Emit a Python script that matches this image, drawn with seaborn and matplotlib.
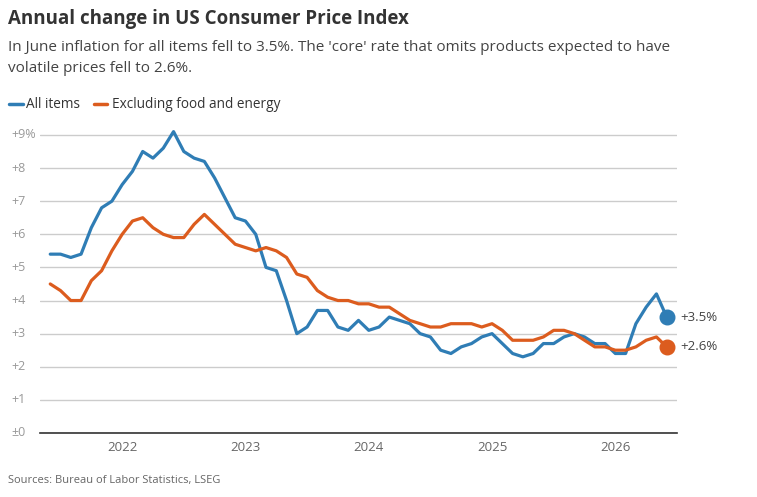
import numpy as np
import pandas as pd
import matplotlib
matplotlib.use('Agg')
import matplotlib.pyplot as plt
import seaborn as sns

# Monthly values, June 2021 .. June 2026
all_items = [5.4, 5.4, 5.3, 5.4, 6.2, 6.8, 7.0, 7.5, 7.9, 8.5,
             8.3, 8.6, 9.1, 8.5, 8.3, 8.2, 7.7, 7.1, 6.5, 6.4,
             6.0, 5.0, 4.9, 4.0, 3.0, 3.2, 3.7, 3.7, 3.2, 3.1,
             3.4, 3.1, 3.2, 3.5, 3.4, 3.3, 3.0, 2.9, 2.5, 2.4,
             2.6, 2.7, 2.9, 3.0, 2.7, 2.4, 2.3, 2.4, 2.7, 2.7,
             2.9, 3.0, 2.9, 2.7, 2.7, 2.4, 2.4, 3.3, 3.8, 4.2, 3.5]
core = [4.5, 4.3, 4.0, 4.0, 4.6, 4.9, 5.5, 6.0, 6.4, 6.5,
        6.2, 6.0, 5.9, 5.9, 6.3, 6.6, 6.3, 6.0, 5.7, 5.6,
        5.5, 5.6, 5.5, 5.3, 4.8, 4.7, 4.3, 4.1, 4.0, 4.0,
        3.9, 3.9, 3.8, 3.8, 3.6, 3.4, 3.3, 3.2, 3.2, 3.3,
        3.3, 3.3, 3.2, 3.3, 3.1, 2.8, 2.8, 2.8, 2.9, 3.1,
        3.1, 3.0, 2.8, 2.6, 2.6, 2.5, 2.5, 2.6, 2.8, 2.9, 2.6]
year_labels = ['2022', '2023', '2024', '2025', '2026']
year_pos = [7, 19, 31, 43, 55]
y_labels = ['±0', '+1', '+2', '+3', '+4', '+5', '+6', '+7', '+8', '+9%']

blue = '#2f7db5'
orange = '#dc5c1e'

sns.set_theme(style='white')
plt.rcParams['font.family'] = ['Open Sans', 'DejaVu Sans']

n = len(all_items)
df = pd.DataFrame({
    'month': list(range(n)) * 2,
    'value': all_items + core,
    'series': ['All items'] * n + ['Excluding food and energy'] * n,
})

fig = plt.figure(figsize=(7.57, 4.97), dpi=100)
ax = fig.add_axes([0.0528, 0.1288, 0.8415, 0.6097])

sns.lineplot(data=df, x='month', y='value', hue='series',
             palette=[blue, orange], linewidth=2.3, legend=False, ax=ax)

ax.scatter([n - 1], [all_items[-1]], s=110, color=blue, zorder=5)
ax.scatter([n - 1], [core[-1]], s=110, color=orange, zorder=5)
ax.text(n - 1 + 1.3, all_items[-1], '+3.5%', va='center', fontsize=9.5, color='#444444')
ax.text(n - 1 + 1.3, core[-1], '+2.6%', va='center', fontsize=9.5, color='#444444')

ax.set_xlim(-1, 61)
ax.set_ylim(0, 9.15)
ax.set_yticks(range(10))
ax.set_yticklabels([])
for i, lab in enumerate(y_labels):
    ax.text(-0.045, i, lab, transform=ax.get_yaxis_transform(), ha='left',
            va='center', fontsize=9, color='#999999')
ax.set_xticks(year_pos)
ax.set_xticklabels(year_labels, fontsize=9.5, color='#666666')
ax.tick_params(axis='both', length=0, pad=6)
ax.grid(axis='y', color='#cccccc', linewidth=1)
for s in ['top', 'right', 'left']:
    ax.spines[s].set_visible(False)
ax.spines['bottom'].set_color('#333333')
ax.spines['bottom'].set_linewidth(1.2)
ax.set_xlabel('')
ax.set_ylabel('')

fig.text(0.011, 0.962, 'Annual change in US Consumer Price Index', fontsize=13.5,
         fontweight='bold', color='#333333', va='center')
fig.text(0.011, 0.905, "In June inflation for all items fell to 3.5%. The 'core' rate that omits products expected to have",
         fontsize=11, color='#444444', va='center')
fig.text(0.011, 0.862, 'volatile prices fell to 2.6%.', fontsize=11, color='#444444', va='center')

# legend
fig.lines.append(plt.Line2D([0.012, 0.030], [0.79, 0.79], transform=fig.transFigure, color=blue, linewidth=2.5))
fig.text(0.035, 0.79, 'All items', fontsize=9.8, color='#333333', va='center')
fig.lines.append(plt.Line2D([0.124, 0.142], [0.79, 0.79], transform=fig.transFigure, color=orange, linewidth=2.5))
fig.text(0.148, 0.79, 'Excluding food and energy', fontsize=9.8, color='#333333', va='center')

fig.text(0.011, 0.034, 'Sources: Bureau of Labor Statistics, LSEG', fontsize=8, color='#666666', va='center')

fig.savefig('out.png', dpi=100)
